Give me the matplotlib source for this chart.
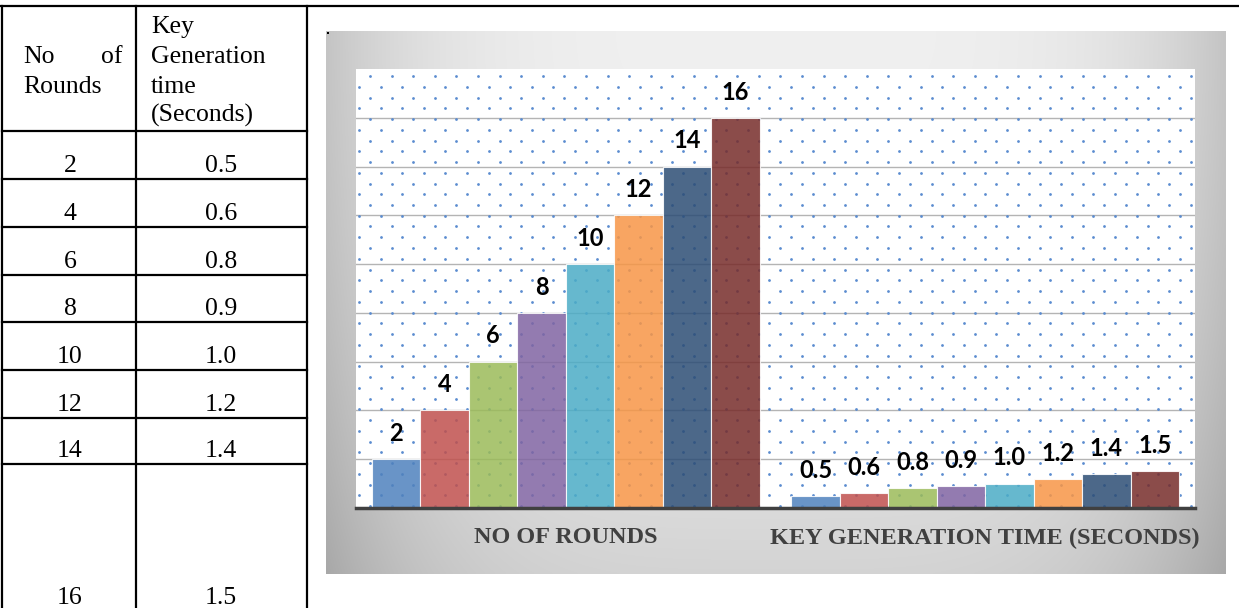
import numpy as np
import matplotlib.pyplot as plt
from matplotlib.lines import Line2D
from matplotlib.patches import Rectangle

W, H = 1239, 608

rounds = [2, 4, 6, 8, 10, 12, 14, 16]
key_times = [0.5, 0.6, 0.8, 0.9, 1.0, 1.2, 1.4, 1.5]
categories = ["NO OF ROUNDS", "KEY GENERATION TIME (SECONDS)"]
bar_colors = ["#4F81BD", "#C0504D", "#9BBB59", "#8064A2",
              "#4BACC6", "#F79646", "#2C4D75", "#772C2A"]


def fx(px):
    return px / W


def fy(py):
    return 1 - py / H


fig = plt.figure(figsize=(W / 100, H / 100), dpi=100)
fig.patch.set_facecolor("white")

# ---- table on the left ----
serif = "Liberation Serif"
tsize = 18.5


def line(x0, y0, x1, y1):
    fig.add_artist(Line2D([fx(x0), fx(x1)], [fy(y0), fy(y1)],
                          color="black", lw=1.6, solid_capstyle="projecting"))


line(0, 6, W, 6)
for x in [2, 136, 307]:
    line(x, 6, x, H)
row_lines = [131, 179, 227, 275, 322, 370, 418, 464]
for y in row_lines:
    line(2, y, 307, y)

# header
fig.text(fx(23), fy(63), "No", fontsize=tsize, family=serif, va="baseline")
fig.text(fx(123), fy(63), "of", fontsize=tsize, family=serif, va="baseline", ha="right")
fig.text(fx(23), fy(93), "Rounds", fontsize=tsize, family=serif, va="baseline")
for txt, y in zip(["Key", "Generation", "time", "(Seconds)"], [33, 63, 93, 122]):
    fig.text(fx(151), fy(y), txt, fontsize=tsize, family=serif, va="baseline")

row_base = [y - 7 for y in row_lines[1:]] + [604]
for r, t, y in zip(rounds, key_times, row_base):
    fig.text(fx(70), fy(y), str(r), fontsize=tsize, family=serif,
             va="baseline", ha="center")
    fig.text(fx(221), fy(y), f"{t:.1f}", fontsize=tsize, family=serif,
             va="baseline", ha="center")

# ---- chart frame with gradient ----
bg = fig.add_axes([fx(326), fy(574), (1225 - 326) / W, (574 - 31) / H], zorder=0)
gx = np.linspace(-1, 1, 400)
gy = np.linspace(0, 1, 240)
GX, GY = np.meshgrid(gx, gy)
shade = 0.94 - 0.17 * np.abs(GX) ** 4 - 0.11 * GY ** 2
bg.imshow(np.dstack([shade] * 3), aspect="auto", extent=[0, 1, 0, 1],
          origin="upper", interpolation="bilinear")
bg.set_xlim(0, 1)
bg.set_ylim(0, 1)
bg.axis("off")
fig.add_artist(Rectangle((fx(327), fy(34)), 2 / W, 2 / H, color="black", lw=0))

# ---- plot area ----
ax = fig.add_axes([fx(356), fy(508), 839 / W, 439 / H], zorder=1)
ax.set_facecolor("white")

# dotted fill pattern (pixels inside plot area)
dots_x, dots_y = [], []
for k, py in enumerate(np.arange(7, 439, 10.75)):
    start = 14 if k % 2 == 0 else 3
    for px in np.arange(start, 839, 21.6):
        dots_x.append(px / 839)
        dots_y.append(1 - py / 439)
ax.scatter(dots_x, dots_y, s=4, color="#5b8cd0", lw=0, transform=ax.transAxes,
           zorder=1)

n = len(rounds)
width = 0.1155
x = np.arange(len(categories))
for i in range(n):
    off = (i - (n - 1) / 2) * width
    vals = [rounds[i], key_times[i]]
    ax.bar(x + off, vals, width, color=bar_colors[i], alpha=0.85,
           edgecolor="white", lw=0.8, zorder=3)
    for xi, v, lab in zip(x + off, vals, [str(rounds[i]), f"{key_times[i]:.1f}"]):
        ax.annotate(lab, (xi, v), xytext=(0, 18.5), textcoords="offset points",
                    ha="center", va="center", fontsize=17, fontweight="bold",
                    family="Lato", color="black", zorder=4)

ax.set_xlim(-0.5, 1.5)
ax.set_ylim(0, 18)
ax.set_yticks(range(2, 17, 2))
ax.yaxis.grid(True, color="#b4b4b4", lw=1)
ax.set_axisbelow(True)
ax.tick_params(axis="y", left=False, labelleft=False)
ax.set_xticks(x)
ax.set_xticklabels(categories, fontsize=17.5, fontweight="bold", family=serif,
                   color="#404040")
ax.tick_params(axis="x", length=0, pad=14)
for s in ["top", "left", "right"]:
    ax.spines[s].set_visible(False)
ax.spines["bottom"].set_color("#404040")
ax.spines["bottom"].set_linewidth(2.5)
ax.spines["bottom"].set_zorder(5)

fig.savefig("out.png", dpi=100)
